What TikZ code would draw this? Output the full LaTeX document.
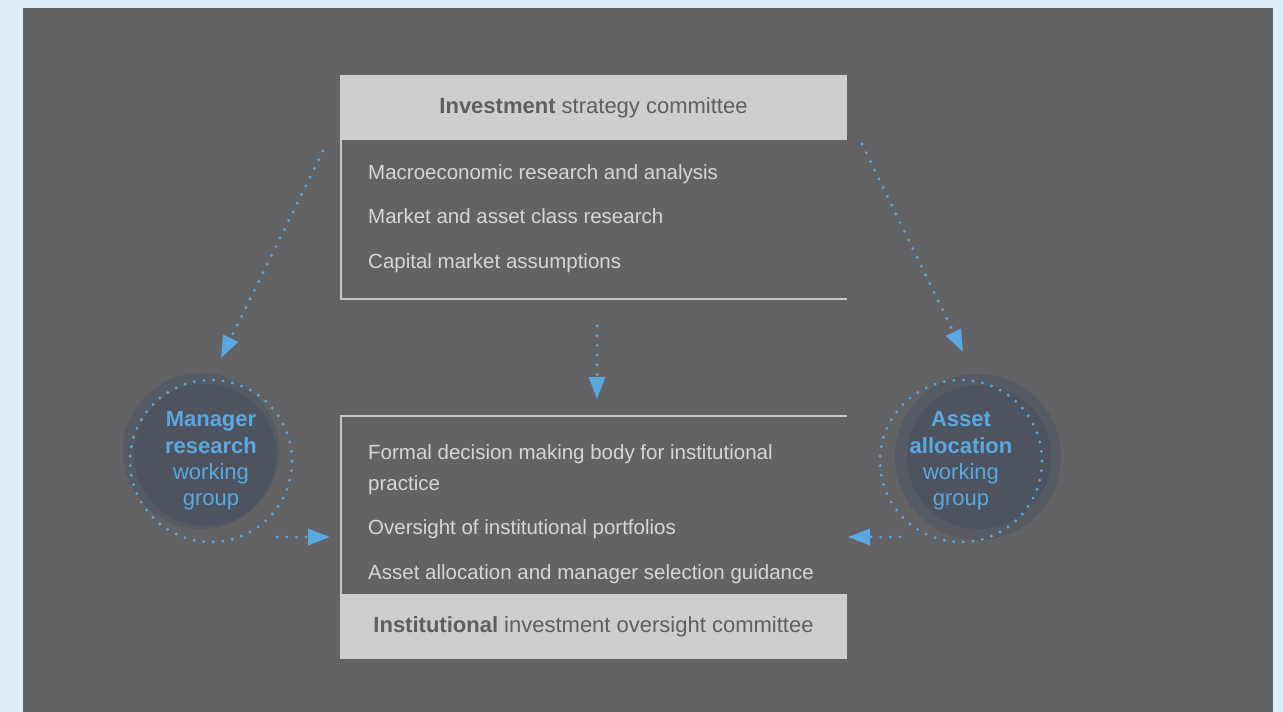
\documentclass[tikz,border=0pt]{standalone}
\usepackage{fontspec}
\setmainfont{Liberation Sans}
\usetikzlibrary{arrows.meta}
\definecolor{PageBlue}{HTML}{DEECF8}
\definecolor{PanelGray}{HTML}{636365}
\definecolor{HeadGray}{HTML}{CDCED0}
\definecolor{HeadText}{HTML}{5E5E60}
\definecolor{ItemText}{HTML}{D6D6D6}
\definecolor{RuleGray}{HTML}{C6C6C8}
\definecolor{DotBlue}{HTML}{5AA8E0}
\definecolor{DiscOuter}{HTML}{555A63}
\definecolor{DiscInner}{HTML}{4E5360}
\begin{document}
\begin{tikzpicture}[x=1pt,y=-1pt,
    head/.style={fill=HeadGray,text=HeadText,minimum width=507pt,minimum height=65pt,inner sep=0pt,outer sep=0pt,anchor=north west,font=\fontsize{22}{26}\selectfont},
    item/.style={text=ItemText,anchor=base west,inner sep=0pt,font=\fontsize{20.5}{24}\selectfont},
    frame/.style={RuleGray,line width=1.5pt},
    ring/.style={circle,draw=DotBlue,line width=3.2pt,dash pattern=on 0pt off 9.6pt,line cap=round,minimum size=162pt,inner sep=0pt,text=DotBlue,align=center,font=\fontsize{22}{26.2}\selectfont},
    dots/.style={DotBlue,line width=3.2pt,line cap=round,dash pattern=on 0pt off 9.7pt,-{Triangle[length=22pt,width=16pt]}}]
    \fill[PageBlue] (0,0) rectangle (1283,712);% page
    \useasboundingbox (0,0) rectangle (1283,712);
    \fill[PanelGray] (23,8) rectangle (1273,712);% panel
    \coordinate (StrategyLeft)   at (323,151);
    \coordinate (ManagerTip)     at (221,358);
    \coordinate (StrategyRight)  at (862,144);
    \coordinate (AllocationTip)  at (963,352);
    \coordinate (StrategyBelow)  at (597,326);
    \coordinate (OversightTop)   at (597,399);
    \coordinate (ManagerExit)    at (277,537);
    \coordinate (OversightLeft)  at (330,537);
    \coordinate (AllocationExit) at (900,537);
    \coordinate (OversightRight) at (848,537);
    % top committee
    \node[head] (StrategyHead) at (340,75) {\textbf{Investment} strategy committee};
    \draw[frame] ([xshift=1pt]StrategyHead.south west) |- (847,299);% Draw frame
    \node[item] (MacroItem)   at (368,179) {Macroeconomic research and analysis};
    \node[item] (MarketItem)  at (368,223.5) {Market and asset class research};
    \node[item] (CapitalItem) at (368,268) {Capital market assumptions};
    % bottom committee
    \node[head] (OversightHead) at (340,594) {\textbf{Institutional} investment oversight committee};
    \draw[frame] (847,416) -| ([xshift=1pt]OversightHead.north west);% Draw frame
    \node[item] (FormalItem)    at (368,459) {Formal decision making body for institutional};
    \node[item] (PracticeItem)  at (368,490) {practice};
    \node[item] (PortfolioItem) at (368,534.5) {Oversight of institutional portfolios};
    \node[item] (GuidanceItem)  at (368,579.5) {Asset allocation and manager selection guidance};
    % working groups
    \fill[DiscOuter] (201,451) circle[radius=78];
    \fill[DiscInner] (205,455) circle[radius=71];
    \fill[DiscOuter] (978,457) circle[radius=83];
    \fill[DiscInner] (979,457) circle[radius=72];
    \node[ring] (ManagerGroup)    at (211,461) {\textbf{Manager}\\\textbf{research}\\working\\group};
    \node[ring] (AllocationGroup) at (961,461) {\textbf{Asset}\\\textbf{allocation}\\working\\group};
    % dotted arrows
    \draw[dots] (StrategyLeft) -- (ManagerTip);
    \draw[dots] (StrategyRight) -- (AllocationTip);
    \draw[dots] (StrategyBelow) -- (OversightTop);
    \draw[dots] (ManagerExit) -- (OversightLeft);
    \draw[dots] (AllocationExit) -- (OversightRight);
\end{tikzpicture}
\end{document}
